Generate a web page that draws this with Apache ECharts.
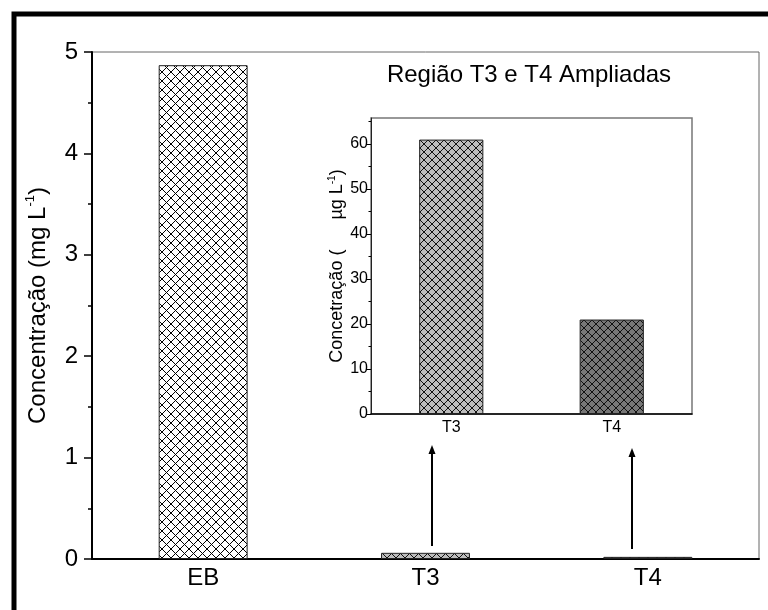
<!DOCTYPE html>
<html>
<head>
<meta charset="utf-8">
<script src="https://cdn.jsdelivr.net/npm/echarts@6/dist/echarts.min.js"></script>
<style>
  html, body { margin: 0; padding: 0; background: #fff; }
  #chart { width: 768px; height: 610px; }
</style>
</head>
<body>
<div id="chart"></div>
<script>
// Samples and measured concentrations
const categories = ['EB', 'T3', 'T4'];
const concMgL = [4.87, 0.061, 0.021];          // mg L-1, main plot
const insetCategories = ['T3', 'T4'];
const insetConcUgL = [61, 21];                 // µg L-1, enlarged view
const yTicksInset = [0, 10, 20, 30, 40, 50, 60];
const yMinorInset = [5, 15, 25, 35, 45, 55, 65];

const FONT = '"Liberation Sans", Arial, Helvetica, sans-serif';

// Cross-hatch fill built on a small tile canvas
function hatch(period, bg, line, lw) {
  const c = document.createElement('canvas');
  c.width = c.height = period;
  const g = c.getContext('2d');
  g.fillStyle = bg;
  g.fillRect(0, 0, period, period);
  g.strokeStyle = line;
  g.lineWidth = lw;
  g.beginPath();
  g.moveTo(-1, -1); g.lineTo(period + 1, period + 1);
  g.moveTo(period + 1, -1); g.lineTo(-1, period + 1);
  g.stroke();
  return { image: c, repeat: 'repeat' };
}

const fillMain = [
  hatch(9, '#ffffff', '#000000', 1),
  hatch(9, '#bdbdbd', '#111111', 1),
  hatch(9, '#6e6e6e', '#111111', 1)
];
const fillInset = [
  hatch(8, '#bdbdbd', '#111111', 1),
  hatch(8, '#777777', '#111111', 1)
];

function arrow(x, yFrom, yTo) {
  return {
    type: 'group',
    children: [
      { type: 'line', shape: { x1: x, y1: yFrom, x2: x, y2: yTo + 6 },
        style: { stroke: '#000', lineWidth: 2 } },
      { type: 'polygon', shape: { points: [[x - 3.5, yTo + 9], [x, yTo], [x + 3.5, yTo + 9]] },
        style: { fill: '#000' } }
    ]
  };
}

const chart = echarts.init(document.getElementById('chart'), null, { renderer: 'canvas' });

chart.setOption({
  animation: false,
  backgroundColor: '#fff',
  grid: [
    { left: 92, top: 52, right: 9, bottom: 51, show: true,
      borderColor: '#666', borderWidth: 1, backgroundColor: '#fff' },
    { left: 371, top: 118, right: 76, bottom: 196, show: true,
      borderColor: '#777', borderWidth: 1.5, backgroundColor: '#fff' }
  ],
  xAxis: [
    { type: 'category', gridIndex: 0, data: categories, boundaryGap: true,
      axisLine: { lineStyle: { color: '#000', width: 2 } },
      axisTick: { alignWithLabel: true, length: 7, lineStyle: { color: '#000', width: 1.5 } },
      axisLabel: { color: '#000', fontSize: 24, fontFamily: FONT, margin: 7 },
      splitLine: { show: false } },
    { type: 'category', gridIndex: 1, data: insetCategories, boundaryGap: true,
      axisLine: { lineStyle: { color: '#000', width: 1.5 } },
      axisTick: { alignWithLabel: true, length: 5, lineStyle: { color: '#000', width: 1 } },
      axisLabel: { color: '#000', fontSize: 16, fontFamily: FONT, margin: 6 },
      splitLine: { show: false } }
  ],
  yAxis: [
    { type: 'value', gridIndex: 0, min: 0, max: 5, interval: 1,
      name: '{a|Concentração (mg L}{s|-1}{a|)}',
      nameLocation: 'middle', nameGap: 40, nameRotate: 90,
      nameTextStyle: {
        rich: {
          a: { fontSize: 24, fontFamily: FONT, color: '#000', lineHeight: 28 },
          s: { fontSize: 13, fontFamily: FONT, color: '#000', verticalAlign: 'top', lineHeight: 28 }
        }
      },
      axisLine: { show: true, lineStyle: { color: '#000', width: 2 } },
      axisTick: { show: true, length: 8, lineStyle: { color: '#000', width: 1.5 } },
      minorTick: { show: true, splitNumber: 2, length: 4, lineStyle: { color: '#000', width: 1.5 } },
      axisLabel: { color: '#000', fontSize: 24, fontFamily: FONT, margin: 14 },
      splitLine: { show: false }, minorSplitLine: { show: false } },
    { type: 'value', gridIndex: 1, position: 'left', min: 0, max: 65.8,
      name: '{a|Concetração (      µg L}{s|-1}{a|)}',
      nameLocation: 'middle', nameGap: 23, nameRotate: 90,
      nameTextStyle: {
        rich: {
          a: { fontSize: 18, fontFamily: FONT, color: '#000', lineHeight: 21 },
          s: { fontSize: 10, fontFamily: FONT, color: '#000', verticalAlign: 'top', lineHeight: 21 }
        }
      },
      axisLine: { show: true, lineStyle: { color: '#222', width: 1 } },
      axisTick: { show: true, length: 4, customValues: yTicksInset, lineStyle: { color: '#000', width: 1 } },
      axisLabel: { color: '#000', fontSize: 16, fontFamily: FONT, margin: 3, customValues: yTicksInset },
      splitLine: { show: false } },
    { type: 'value', gridIndex: 1, position: 'left', min: 0, max: 65.8,
      axisLine: { show: false },
      axisTick: { show: true, length: 2.5, customValues: yMinorInset, lineStyle: { color: '#000', width: 1 } },
      axisLabel: { show: false },
      splitLine: { show: false } }
  ],
  series: [
    { type: 'bar', xAxisIndex: 0, yAxisIndex: 0, barWidth: '40%',
      data: concMgL.map((v, i) => ({
        value: v,
        itemStyle: { color: fillMain[i], borderColor: '#222', borderWidth: 1 }
      })) },
    { type: 'bar', xAxisIndex: 1, yAxisIndex: 1, barWidth: '40%',
      data: insetConcUgL.map((v, i) => ({
        value: v,
        itemStyle: { color: fillInset[i], borderColor: '#222', borderWidth: 1 }
      })) }
  ],
  graphic: [
    // figure frame (left and top edges visible)
    { type: 'rect', shape: { x: 14, y: 14, width: 800, height: 700 },
      style: { fill: null, stroke: '#000', lineWidth: 5 }, z: 100 },
    { type: 'text', x: 529, y: 75,
      style: { text: 'Região T3 e T4 Ampliadas', fontSize: 24, fontFamily: FONT, fill: '#000',
               align: 'center', verticalAlign: 'middle' } },
    arrow(432, 546, 445),
    arrow(632, 549, 448)
  ]
});
</script>
</body>
</html>
